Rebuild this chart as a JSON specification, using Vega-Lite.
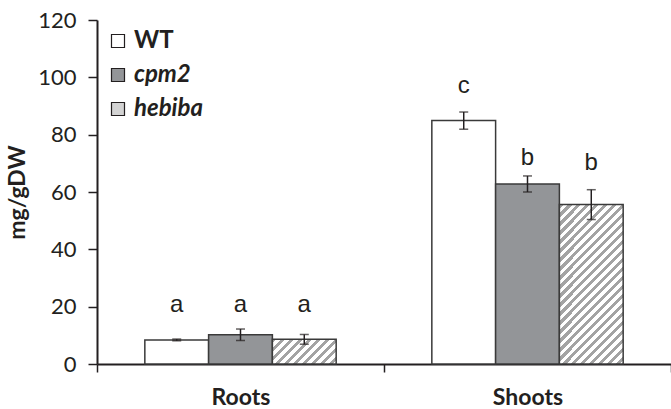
{
  "$schema": "https://vega.github.io/schema/vega-lite/v6.json",
  "autosize": {"type": "none"},
  "padding": {"left": 97, "top": 20, "right": 0, "bottom": 45},
  "width": 574,
  "height": 344,
  "config": {"view": {"stroke": null}, "font": "Lato", "background": "#ffffff", "legend": {"symbolStrokeColor": "#231f20", "symbolStrokeWidth": 1.2}},
  "data": {
    "values": [
      {"organ": "Roots", "genotype": "WT", "mean": 8.4, "err": 0.3, "sig": "a", "sig_y": 18.2},
      {"organ": "Roots", "genotype": "cpm2", "mean": 10.2, "err": 2.0, "sig": "a", "sig_y": 18.2},
      {"organ": "Roots", "genotype": "hebiba", "mean": 8.6, "err": 1.7, "sig": "a", "sig_y": 18.2},
      {"organ": "Shoots", "genotype": "WT", "mean": 84.9, "err": 3.0, "sig": "c", "sig_y": 94.6},
      {"organ": "Shoots", "genotype": "cpm2", "mean": 62.8, "err": 2.8, "sig": "b", "sig_y": 69.4},
      {"organ": "Shoots", "genotype": "hebiba", "mean": 55.6, "err": 5.2, "sig": "b", "sig_y": 67.7}
    ]
  },
  "transform": [
    {"calculate": "datum.mean - datum.err", "as": "lo"},
    {"calculate": "datum.mean + datum.err", "as": "hi"}
  ],
  "encoding": {
    "x": {
      "field": "organ", "type": "nominal", "sort": ["Roots", "Shoots"],
      "scale": {"paddingInner": 0, "paddingOuter": 0},
      "axis": {
        "title": null, "labelAngle": 0, "labelFontSize": 23, "labelFontWeight": "bold",
        "labelColor": "#231f20", "tickBand": "extent", "tickSize": 8, "tickWidth": 1.5,
        "tickColor": "#231f20", "domainColor": "#231f20", "domainWidth": 2, "labelPadding": 14
      }
    },
    "xOffset": {
      "field": "genotype", "type": "nominal", "sort": ["WT", "cpm2", "hebiba"],
      "scale": {"paddingInner": 0, "paddingOuter": 0.75}
    }
  },
  "layer": [
    {
      "mark": {"type": "bar", "stroke": "#3a3a3a", "strokeWidth": 1.5},
      "encoding": {
        "y": {
          "field": "mean", "type": "quantitative",
          "scale": {"domain": [0, 120], "nice": false},
          "axis": {
            "title": "mg/gDW", "values": [0, 20, 40, 60, 80, 100, 120], "grid": false,
            "domainColor": "#231f20", "domainWidth": 2, "tickColor": "#231f20", "tickSize": 9,
            "tickWidth": 1.5, "labelFontSize": 22, "labelColor": "#231f20", "labelPadding": 12,
            "titleFontSize": 23, "titleFontWeight": "bold", "titleColor": "#231f20", "titlePadding": 8
          }
        },
        "fill": {
          "field": "genotype", "type": "nominal", "sort": ["WT", "cpm2", "hebiba"],
          "scale": {"domain": ["WT", "cpm2", "hebiba"], "range": ["#ffffff", "#939598", "#d3d3d3"]},
          "legend": {
            "title": null, "orient": "top-left", "offset": 9, "padding": 0,
            "symbolType": "square", "symbolSize": 169, "symbolStrokeColor": "#231f20",
            "symbolStrokeWidth": 1.2, "labelFontSize": 24, "labelFontWeight": "bold",
            "labelColor": "#231f20", "rowPadding": 10, "labelOffset": 4,
            "labelFontStyle": {"expr": "datum.value === 'WT' ? 'normal' : 'italic'"}
          },
          "condition": [
            {"test": "datum.genotype === 'hebiba' && datum.organ === 'Roots'", "value": {"gradient": "linear", "x1": 0, "y1": 0, "x2": 1.224, "y2": 0.4724, "stops": [
              {"offset": 0, "color": "#a3a3a3"}, {"offset": 0.045, "color": "#a3a3a3"}, {"offset": 0.045, "color": "#ffffff"}, {"offset": 0.1, "color": "#ffffff"},
              {"offset": 0.1, "color": "#a3a3a3"}, {"offset": 0.145, "color": "#a3a3a3"}, {"offset": 0.145, "color": "#ffffff"}, {"offset": 0.2, "color": "#ffffff"},
              {"offset": 0.2, "color": "#a3a3a3"}, {"offset": 0.245, "color": "#a3a3a3"}, {"offset": 0.245, "color": "#ffffff"}, {"offset": 0.3, "color": "#ffffff"},
              {"offset": 0.3, "color": "#a3a3a3"}, {"offset": 0.345, "color": "#a3a3a3"}, {"offset": 0.345, "color": "#ffffff"}, {"offset": 0.4, "color": "#ffffff"},
              {"offset": 0.4, "color": "#a3a3a3"}, {"offset": 0.445, "color": "#a3a3a3"}, {"offset": 0.445, "color": "#ffffff"}, {"offset": 0.5, "color": "#ffffff"},
              {"offset": 0.5, "color": "#a3a3a3"}, {"offset": 0.545, "color": "#a3a3a3"}, {"offset": 0.545, "color": "#ffffff"}, {"offset": 0.6, "color": "#ffffff"},
              {"offset": 0.6, "color": "#a3a3a3"}, {"offset": 0.645, "color": "#a3a3a3"}, {"offset": 0.645, "color": "#ffffff"}, {"offset": 0.7, "color": "#ffffff"},
              {"offset": 0.7, "color": "#a3a3a3"}, {"offset": 0.745, "color": "#a3a3a3"}, {"offset": 0.745, "color": "#ffffff"}, {"offset": 0.8, "color": "#ffffff"},
              {"offset": 0.8, "color": "#a3a3a3"}, {"offset": 0.845, "color": "#a3a3a3"}, {"offset": 0.845, "color": "#ffffff"}, {"offset": 0.9, "color": "#ffffff"},
              {"offset": 0.9, "color": "#a3a3a3"}, {"offset": 0.945, "color": "#a3a3a3"}, {"offset": 0.945, "color": "#ffffff"}, {"offset": 1, "color": "#ffffff"}
            ]}},
            {"test": "datum.genotype === 'hebiba' && datum.organ === 'Shoots'", "value": {"gradient": "linear", "x1": 0, "y1": 0, "x2": 0.48807, "y2": 1.2156, "stops": [
              {"offset": 0, "color": "#a3a3a3"}, {"offset": 0.018, "color": "#a3a3a3"}, {"offset": 0.018, "color": "#ffffff"}, {"offset": 0.04, "color": "#ffffff"},
              {"offset": 0.04, "color": "#a3a3a3"}, {"offset": 0.058, "color": "#a3a3a3"}, {"offset": 0.058, "color": "#ffffff"}, {"offset": 0.08, "color": "#ffffff"},
              {"offset": 0.08, "color": "#a3a3a3"}, {"offset": 0.098, "color": "#a3a3a3"}, {"offset": 0.098, "color": "#ffffff"}, {"offset": 0.12, "color": "#ffffff"},
              {"offset": 0.12, "color": "#a3a3a3"}, {"offset": 0.138, "color": "#a3a3a3"}, {"offset": 0.138, "color": "#ffffff"}, {"offset": 0.16, "color": "#ffffff"},
              {"offset": 0.16, "color": "#a3a3a3"}, {"offset": 0.178, "color": "#a3a3a3"}, {"offset": 0.178, "color": "#ffffff"}, {"offset": 0.2, "color": "#ffffff"},
              {"offset": 0.2, "color": "#a3a3a3"}, {"offset": 0.218, "color": "#a3a3a3"}, {"offset": 0.218, "color": "#ffffff"}, {"offset": 0.24, "color": "#ffffff"},
              {"offset": 0.24, "color": "#a3a3a3"}, {"offset": 0.258, "color": "#a3a3a3"}, {"offset": 0.258, "color": "#ffffff"}, {"offset": 0.28, "color": "#ffffff"},
              {"offset": 0.28, "color": "#a3a3a3"}, {"offset": 0.298, "color": "#a3a3a3"}, {"offset": 0.298, "color": "#ffffff"}, {"offset": 0.32, "color": "#ffffff"},
              {"offset": 0.32, "color": "#a3a3a3"}, {"offset": 0.338, "color": "#a3a3a3"}, {"offset": 0.338, "color": "#ffffff"}, {"offset": 0.36, "color": "#ffffff"},
              {"offset": 0.36, "color": "#a3a3a3"}, {"offset": 0.378, "color": "#a3a3a3"}, {"offset": 0.378, "color": "#ffffff"}, {"offset": 0.4, "color": "#ffffff"},
              {"offset": 0.4, "color": "#a3a3a3"}, {"offset": 0.418, "color": "#a3a3a3"}, {"offset": 0.418, "color": "#ffffff"}, {"offset": 0.44, "color": "#ffffff"},
              {"offset": 0.44, "color": "#a3a3a3"}, {"offset": 0.458, "color": "#a3a3a3"}, {"offset": 0.458, "color": "#ffffff"}, {"offset": 0.48, "color": "#ffffff"},
              {"offset": 0.48, "color": "#a3a3a3"}, {"offset": 0.498, "color": "#a3a3a3"}, {"offset": 0.498, "color": "#ffffff"}, {"offset": 0.52, "color": "#ffffff"},
              {"offset": 0.52, "color": "#a3a3a3"}, {"offset": 0.538, "color": "#a3a3a3"}, {"offset": 0.538, "color": "#ffffff"}, {"offset": 0.56, "color": "#ffffff"},
              {"offset": 0.56, "color": "#a3a3a3"}, {"offset": 0.578, "color": "#a3a3a3"}, {"offset": 0.578, "color": "#ffffff"}, {"offset": 0.6, "color": "#ffffff"},
              {"offset": 0.6, "color": "#a3a3a3"}, {"offset": 0.618, "color": "#a3a3a3"}, {"offset": 0.618, "color": "#ffffff"}, {"offset": 0.64, "color": "#ffffff"},
              {"offset": 0.64, "color": "#a3a3a3"}, {"offset": 0.658, "color": "#a3a3a3"}, {"offset": 0.658, "color": "#ffffff"}, {"offset": 0.68, "color": "#ffffff"},
              {"offset": 0.68, "color": "#a3a3a3"}, {"offset": 0.698, "color": "#a3a3a3"}, {"offset": 0.698, "color": "#ffffff"}, {"offset": 0.72, "color": "#ffffff"},
              {"offset": 0.72, "color": "#a3a3a3"}, {"offset": 0.738, "color": "#a3a3a3"}, {"offset": 0.738, "color": "#ffffff"}, {"offset": 0.76, "color": "#ffffff"},
              {"offset": 0.76, "color": "#a3a3a3"}, {"offset": 0.778, "color": "#a3a3a3"}, {"offset": 0.778, "color": "#ffffff"}, {"offset": 0.8, "color": "#ffffff"},
              {"offset": 0.8, "color": "#a3a3a3"}, {"offset": 0.818, "color": "#a3a3a3"}, {"offset": 0.818, "color": "#ffffff"}, {"offset": 0.84, "color": "#ffffff"},
              {"offset": 0.84, "color": "#a3a3a3"}, {"offset": 0.858, "color": "#a3a3a3"}, {"offset": 0.858, "color": "#ffffff"}, {"offset": 0.88, "color": "#ffffff"},
              {"offset": 0.88, "color": "#a3a3a3"}, {"offset": 0.898, "color": "#a3a3a3"}, {"offset": 0.898, "color": "#ffffff"}, {"offset": 0.92, "color": "#ffffff"},
              {"offset": 0.92, "color": "#a3a3a3"}, {"offset": 0.938, "color": "#a3a3a3"}, {"offset": 0.938, "color": "#ffffff"}, {"offset": 0.96, "color": "#ffffff"},
              {"offset": 0.96, "color": "#a3a3a3"}, {"offset": 0.978, "color": "#a3a3a3"}, {"offset": 0.978, "color": "#ffffff"}, {"offset": 1, "color": "#ffffff"}
            ]}}
          ]
        }
      }
    },
    {
      "mark": {"type": "rule", "color": "#231f20", "strokeWidth": 1.5},
      "encoding": {
        "y": {"field": "lo", "type": "quantitative"},
        "y2": {"field": "hi"}
      }
    },
    {
      "mark": {"type": "tick", "color": "#231f20", "thickness": 1.5, "size": 9, "orient": "horizontal"},
      "encoding": {"y": {"field": "lo", "type": "quantitative"}}
    },
    {
      "mark": {"type": "tick", "color": "#231f20", "thickness": 1.5, "size": 9, "orient": "horizontal"},
      "encoding": {"y": {"field": "hi", "type": "quantitative"}}
    },
    {
      "mark": {"type": "text", "font": "Liberation Sans", "fontSize": 24, "baseline": "alphabetic", "color": "#231f20"},
      "encoding": {
        "y": {"field": "sig_y", "type": "quantitative"},
        "text": {"field": "sig"}
      }
    }
  ]
}
